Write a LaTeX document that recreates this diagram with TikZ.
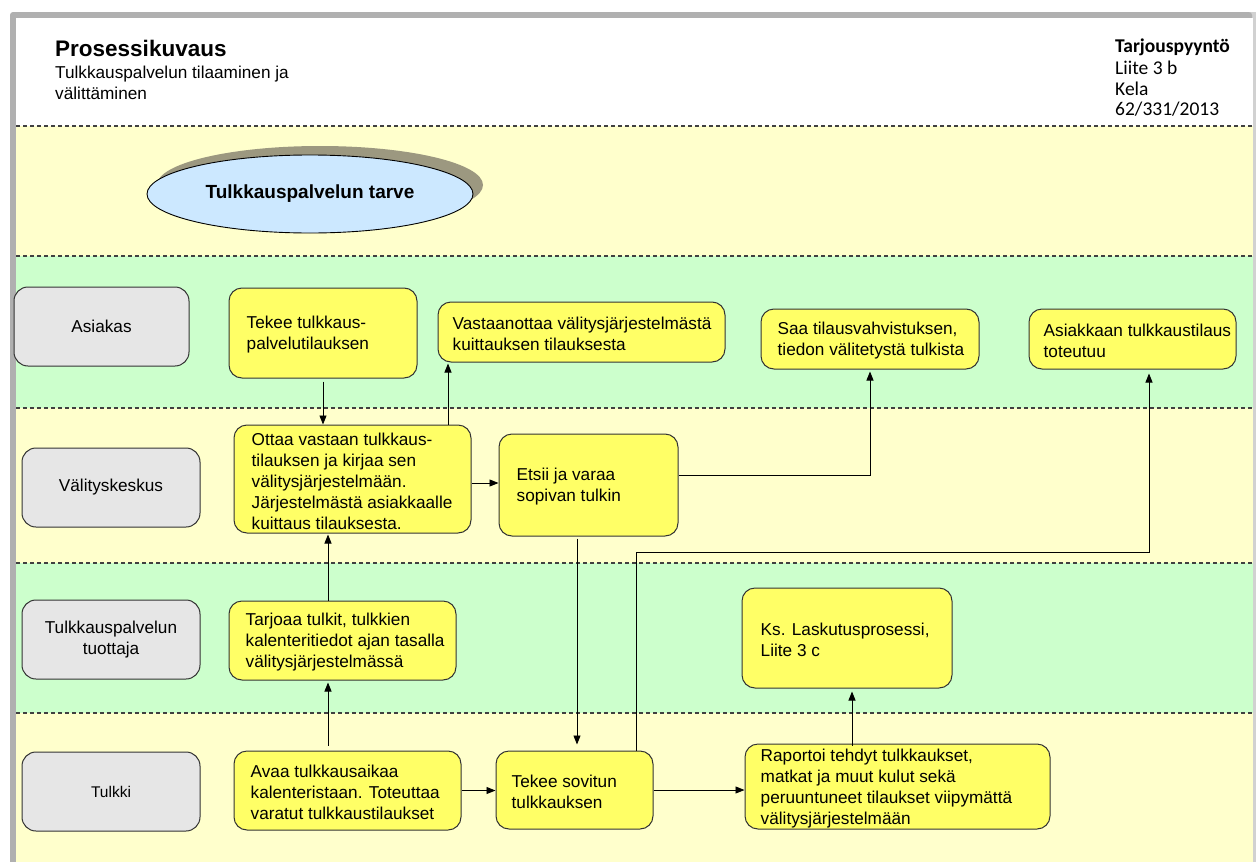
\documentclass[tikz,border=0pt]{standalone}
\usepackage{fontspec}
\setmainfont{Liberation Sans}
\newfontfamily\calfont{Carlito}
\usetikzlibrary{arrows.meta,shapes.geometric,fit}
\definecolor{laneyellow}{HTML}{FFFFCC}
\definecolor{lanegreen}{HTML}{CCFFCC}
\definecolor{procyellow}{HTML}{FFFF66}
\definecolor{rolegray}{HTML}{E6E6E6}
\definecolor{ellblue}{HTML}{CCE8FF}
\definecolor{shadowolive}{HTML}{9C9880}
\definecolor{framegray}{HTML}{B0B0B0}
\definecolor{edgegray}{HTML}{333333}
\newcommand\bodyfnt{\fontsize{17.2}{21}\selectfont}
\begin{document}
\begin{tikzpicture}[x=1pt,y=-1pt,
  proc/.style={draw=edgegray, fill=procyellow, rounded corners=13pt, line width=1pt, inner sep=0pt},
  role/.style={draw=edgegray, fill=rolegray, rounded corners=14pt, line width=1pt, inner sep=0pt},
  roletxt/.style={align=center, inner sep=0pt, font=\bodyfnt},
  txt/.style={anchor=west, align=left, inner sep=0pt, font=\bodyfnt, yshift=-2pt},
  dashline/.style={draw=black!75, line width=1.1pt, dash pattern=on 4pt off 3pt},
  conn/.style={draw=black, line width=0.9pt, -{Triangle[length=9pt,width=7pt]}},
  hdr/.style={anchor=base west, inner sep=0pt},
  docfnt/.style={font=\calfont\fontsize{19.5}{22}\selectfont}]
\useasboundingbox (0,0) rectangle (1256,862);
% frame
\fill[white] (0,0) rectangle (1256,862);
\fill[black!18] (1250,12) rectangle (1256,862);
\fill[framegray, rounded corners=3pt] (10,12) rectangle (1252,870);
\fill[white] (16,18) rectangle (1253,862);
% lanes
\fill[laneyellow] (16,126) rectangle (1253,256);
\fill[lanegreen]  (16,256) rectangle (1253,408);
\fill[laneyellow] (16,408) rectangle (1253,563);
\fill[lanegreen]  (16,563) rectangle (1253,713);
\fill[laneyellow] (16,713) rectangle (1253,862);
\foreach \yy in {126,256,408,563,713}{\draw[dashline] (16,\yy) -- (1253,\yy);}
% header
\node[hdr, font=\fontsize{22.5}{26}\selectfont\bfseries] (title) at (55,56) {Prosessikuvaus};
\node[hdr, font=\bodyfnt] (sub1) at (55,78) {Tulkkauspalvelun tilaaminen ja};
\node[hdr, font=\bodyfnt] (sub2) at (55,99) {välittäminen};
\node[hdr, docfnt, font=\calfont\fontsize{19.5}{22}\selectfont\bfseries] (doc1) at (1115,52) {Tarjouspyyntö};
\node[hdr, docfnt] (doc2) at (1115,74) {Liite 3 b};
\node[hdr, docfnt] (doc3) at (1115,95) {Kela};
\node[hdr, docfnt] (doc4) at (1115,115) {62/331/2013};
% start ellipse
\node[ellipse, fill=shadowolive, minimum width=326pt, minimum height=78pt, inner sep=0pt] (needsh) at (320,185) {};
\node[ellipse, draw=black, line width=0.9pt, fill=ellblue, minimum width=326pt, minimum height=78pt, inner sep=0pt,
      font=\fontsize{19}{22}\selectfont\bfseries] (need) at (310,194) {Tulkkauspalvelun tarve};
% role boxes
\node[role, fit={(14,287) (189,366)}] (rA) {};
\node[roletxt] (rAt) at (rA.center) {Asiakas};
\node[role, fit={(22,448) (200,527)}] (rV) {};
\node[roletxt] (rVt) at (rV.center) {Välityskeskus};
\node[role, fit={(22,600) (200,679)}] (rT) {};
\node[roletxt] (rTt) at (rT.center) {Tulkkauspalvelun\\tuottaja};
\node[role, fit={(22,752) (200,831)}] (rU) {};
\node[roletxt, font=\fontsize{15.5}{19}\selectfont] (rUt) at (rU.center) {Tulkki};
% process boxes
\node[proc, fit={(229,288) (417,378)}] (A1) {};
\node[txt] (A1t) at ([xshift=18pt]A1.west) {Tekee tulkkaus-\\palvelutilauksen};
\node[proc, fit={(438,302) (725,362)}] (A2) {};
\node[txt] (A2t) at ([xshift=15pt]A2.west) {Vastaanottaa välitysjärjestelmästä\\kuittauksen tilauksesta};
\node[proc, fit={(761,309) (979,369)}] (A3) {};
\node[txt] (A3t) at ([xshift=17pt]A3.west) {Saa tilausvahvistuksen,\\tiedon välitetystä tulkista};
\node[proc, fit={(1029,309) (1236,369)}] (A4) {};
\node[txt] (A4t) at ([xshift=15pt]A4.west) {Asiakkaan tulkkaustilaus\\toteutuu};
\node[proc, fit={(234,425) (471,533)}] (V1) {};
\node[txt] (V1t) at ([xshift=18pt]V1.west) {Ottaa vastaan tulkkaus-\\tilauksen ja kirjaa sen\\välitysjärjestelmään.\\Järjestelmästä asiakkaalle\\kuittaus tilauksesta.};
\node[proc, fit={(499,434) (678,536)}] (V2) {};
\node[txt] (V2t) at ([xshift=18pt]V2.west) {Etsii ja varaa\\sopivan tulkin};
\node[proc, fit={(229,601) (456,680)}] (T1) {};
\node[txt] (T1t) at ([xshift=17pt]T1.west) {Tarjoaa tulkit, tulkkien\\kalenteritiedot ajan tasalla\\välitysjärjestelmässä};
\node[proc, fit={(742,588) (952,688)}] (K1) {};
\node[txt] (K1t) at ([xshift=19pt]K1.west) {Ks. Laskutusprosessi,\\Liite 3 c};
\node[proc, fit={(234,751) (461,830)}] (U1) {};
\node[txt] (U1t) at ([xshift=17pt]U1.west) {Avaa tulkkausaikaa\\kalenteristaan. Toteuttaa\\varatut tulkkaustilaukset};
\node[proc, fit={(496,751) (653,829)}] (U2) {};
\node[txt] (U2t) at ([xshift=16pt]U2.west) {Tekee sovitun\\tulkkauksen};
\node[proc, fit={(745,744) (1050,829)}] (U3) {};
\node[txt] (U3t) at ([xshift=16pt]U3.west) {Raportoi tehdyt tulkkaukset,\\matkat ja muut kulut sekä\\peruuntuneet tilaukset viipymättä\\välitysjärjestelmään};
% connector guide coordinates
\coordinate (xa) at (448,0);
\coordinate (xb) at (577,0);
\coordinate (j1) at (636,552);
\coordinate (j2) at (1149,552);
\coordinate (xe) at (328,0);
\coordinate (xf) at (852,0);
\coordinate (ya) at (0,475);
\coordinate (yb) at (0,483);
% connectors
\draw[conn] ([yshift=-3pt]A1.south) -- (A1.south |- V1.north);
\draw[conn] (V1.north -| xa) -- ([yshift=-1pt]A2.south -| xa);
\draw[conn] (V1.east |- yb) -- (V2.west |- yb);
\draw[conn] (V2.east |- ya) -| ([yshift=-2pt]A3.south);
\draw[conn] ([yshift=-2pt]V2.south -| xb) -- ([yshift=6pt]U2.north -| xb);
\draw[conn] (U2.north -| j1) -- (j1) -- (j2) -- ([yshift=-4pt]A4.south -| j2);
\draw[conn] ([yshift=5pt]U1.north -| xe) -- ([yshift=-2pt]T1.south -| xe);
\draw[conn] (T1.north -| xe) -- ([yshift=-1pt]V1.south -| xe);
\draw[conn] (U1.east) -- (U1.east -| U2.west);
\draw[conn] (U2.east) -- (U2.east -| U3.west);
\draw[conn] ([yshift=-2pt]U3.north -| xf) -- ([yshift=-3pt]K1.south -| xf);
\end{tikzpicture}
\end{document}
